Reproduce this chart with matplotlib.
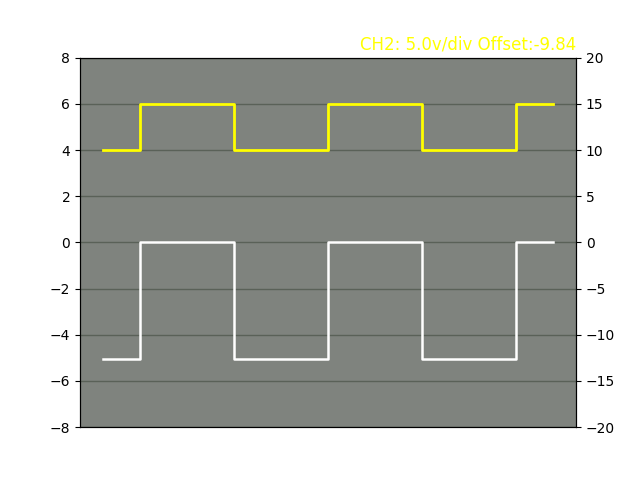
import matplotlib
matplotlib.use("Agg")
import matplotlib.pyplot as plt

# Step-edge times (arbitrary units) and levels for each channel
edges = [0, 37, 131, 225, 319, 413, 450]
ch1_levels = [-5.05, 0.0, -5.05, 0.0, -5.05, 0.0]     # white trace, left axis (V)
ch2_levels = [10.0, 15.0, 10.0, 15.0, 10.0, 15.0]     # yellow trace, right axis (V)
title_text = "CH2: 5.0v/div Offset:-9.84"

def step_xy(edges, levels):
    xs, ys = [], []
    for i, lv in enumerate(levels):
        xs += [edges[i], edges[i + 1]]
        ys += [lv, lv]
    return xs, ys

fig, ax = plt.subplots(figsize=(6.4, 4.8), dpi=100)
bg = "#7f837e"
ax.set_facecolor(bg)
ax.grid(True, axis="y", color="#5a6158", linewidth=1)
ax.set_axisbelow(True)

x1, y1 = step_xy(edges, ch1_levels)
ax.plot(x1, y1, color="white", linewidth=1.8, zorder=3)
ax.set_ylim(-8, 8)
ax.set_yticks(range(-8, 9, 2))
ax.set_xticks([])

ax2 = ax.twinx()
x2, y2 = step_xy(edges, ch2_levels)
ax2.plot(x2, y2, color="yellow", linewidth=2.0, zorder=3)
ax2.set_ylim(-20, 20)
ax2.set_yticks(range(-20, 21, 5))

ax.set_xlim(edges[0] - 0.05 * (edges[-1] - edges[0]), edges[-1] + 0.05 * (edges[-1] - edges[0]))
ax.set_title(title_text, loc="right", color="yellow", fontsize=12)

fig.savefig("out.png", dpi=100)
